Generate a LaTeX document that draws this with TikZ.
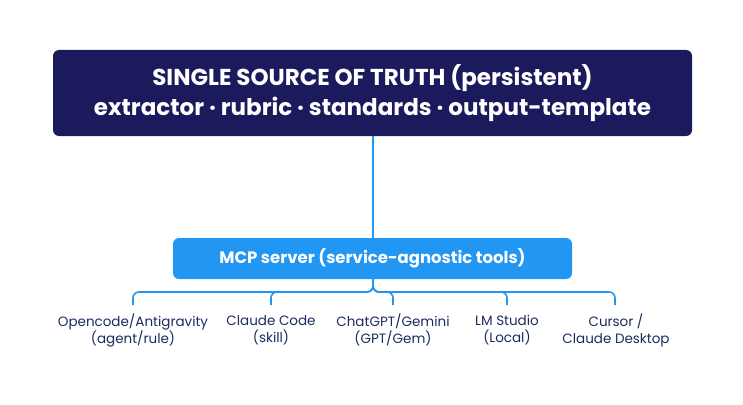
\documentclass[tikz,border=0pt]{standalone}
\usepackage{fontspec}
\setmainfont{Poppins}
\begin{document}
\begin{tikzpicture}[x=1pt,y=-1pt,
  topbox/.style={fill=navy, rounded corners=6pt, inner sep=0pt, text=white, font=\fontsize{23}{30}\selectfont\bfseries, align=center},
  midbox/.style={fill=mcpblue, rounded corners=6pt, inner sep=0pt, text=white, font=\fontsize{16.5}{17}\selectfont\bfseries},
  leaf/.style={text=leaftext, font=\fontsize{13.5}{17}\selectfont, align=center, inner sep=0pt},
  conn/.style={draw=mcpblue, line width=1.6pt},
  branch/.style={draw=mcpblue, line width=1.6pt, rounded corners=6pt}]
\definecolor{navy}{HTML}{1B1A5C}
\definecolor{mcpblue}{HTML}{2196F3}
\definecolor{leaftext}{HTML}{1A2B5E}
\useasboundingbox (0,0) rectangle (743,404);
\node[topbox, minimum width=639pt, minimum height=86pt] (top) at (372.5,93) {SINGLE SOURCE OF TRUTH (persistent)\\extractor · rubric · standards · output-template};
\node[midbox, minimum width=399pt, minimum height=41pt] (mcp) at (372.5,258.5) {MCP server (service-agnostic tools)};
\draw[conn] (top.south -| 373,0) -- (mcp.north -| 373,0);
\coordinate (hub) at (373,292);
\coordinate (b1) at (133,305);
\coordinate (b2) at (271,305);
\coordinate (b3) at (393,305);
\coordinate (b4) at (507,305);
\coordinate (b5) at (615,305);
\foreach \b in {b1,b2,b3,b4,b5}{
  \draw[branch] (mcp.south -| hub) |- (hub) -| (\b);
}
\node[leaf] (l1) at (133,330) {Opencode/Antigravity\\(agent/rule)};
\node[leaf] (l2) at (271,330) {Claude Code\\(skill)};
\node[leaf] (l3) at (393,330) {ChatGPT/Gemini\\(GPT/Gem)};
\node[leaf] (l4) at (507,330) {LM Studio\\(Local)};
\node[leaf] (l5) at (616,330) {Cursor /\\Claude Desktop};
\end{tikzpicture}
\end{document}
